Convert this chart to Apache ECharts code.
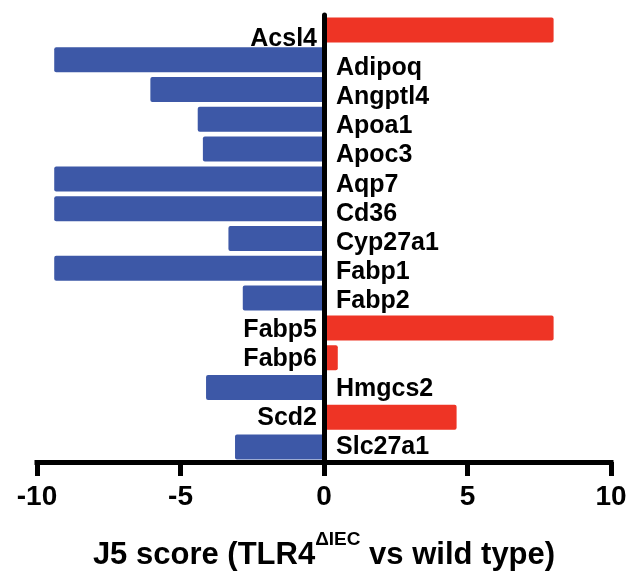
<!DOCTYPE html>
<html>
<head>
<meta charset="utf-8">
<script src="https://cdn.jsdelivr.net/npm/echarts@6/dist/echarts.min.js"></script>
<style>html,body{margin:0;padding:0;background:#fff;}#c{width:631px;height:575px;}</style>
</head>
<body>
<div id="c"></div>
<script>
var genes = ['Acsl4','Adipoq','Angptl4','Apoa1','Apoc3','Aqp7','Cd36','Cyp27a1','Fabp1','Fabp2','Fabp5','Fabp6','Hmgcs2','Scd2','Slc27a1'];
var scores = [8.0, -9.4, -6.05, -4.4, -4.22, -9.4, -9.4, -3.33, -9.4, -2.83, 8.0, 0.48, -4.11, 4.62, -3.1];
var xTicks = [-10, -5, 0, 5, 10];

var FONT = '"Liberation Sans", Arial, Helvetica, sans-serif';
var nameLabels = genes.map(function (g, i) {
  var pos = scores[i] > 0 ? 'left' : 'right';
  return {
    value: [0, g],
    label: {position: pos, distance: scores[i] > 0 ? 7 : 12}
  };
});

var chart = echarts.init(document.getElementById('c'), null, {renderer: 'canvas'});
chart.setOption({
  backgroundColor: '#ffffff',
  animation: false,
  grid: [
    {left: 37, right: 20, top: 15, bottom: 113, containLabel: false, outerBoundsMode: 'none'},
    {left: 37, right: 20, top: 21, bottom: 117, containLabel: false, outerBoundsMode: 'none'}
  ],
  xAxis: [{
    type: 'value', gridIndex: 0,
    min: xTicks[0], max: xTicks[xTicks.length - 1], interval: 5,
    splitLine: {show: false},
    axisLine: {show: true, onZero: false, lineStyle: {color: '#000', width: 5, cap: 'square'}},
    axisTick: {show: true, length: 14, lineStyle: {color: '#000', width: 5}},
    axisLabel: {color: '#000', fontSize: 28, fontWeight: 'bold', fontFamily: FONT, margin: 21},
    name: '{m|J5 score (TLR4}{s|ΔIEC}{m| vs wild type)}',
    nameLocation: 'middle',
    nameGap: 68,
    nameTextStyle: {
      rich: {
        m: {fontSize: 31, fontWeight: 'bold', fontFamily: FONT, color: '#000', lineHeight: 50},
        s: {fontSize: 19, fontWeight: 'bold', fontFamily: FONT, color: '#000', lineHeight: 20, padding: [0, 0, 30, 0]}
      }
    }
  }, {
    type: 'value', gridIndex: 1,
    min: xTicks[0], max: xTicks[xTicks.length - 1], interval: 5,
    show: false
  }],
  yAxis: [{
    type: 'category', data: genes, inverse: true, z: 10, gridIndex: 0,
    axisLine: {show: true, onZero: true, lineStyle: {color: '#000', width: 5}},
    axisTick: {show: false},
    splitLine: {show: false},
    axisLabel: {show: false}
  }, {
    type: 'category', data: genes, inverse: true, gridIndex: 1,
    show: false
  }],
  series: [{
    type: 'bar',
    data: scores,
    barWidth: 25,
    xAxisIndex: 0, yAxisIndex: 0,
    itemStyle: {
      borderRadius: 2,
      color: function (p) { return p.value > 0 ? '#EE3425' : '#3D58A7'; }
    }
  }, {
    type: 'scatter',
    data: nameLabels,
    xAxisIndex: 1, yAxisIndex: 1,
    symbolSize: 0.01,
    itemStyle: {color: '#000', opacity: 1},
    z: 20,
    label: {
      show: true,
      color: '#000', fontSize: 25, fontWeight: 'bold', fontFamily: FONT,
      offset: [0, 3.5],
      formatter: function (p) { return genes[p.dataIndex]; }
    }
  }]
});
</script>
</body>
</html>
